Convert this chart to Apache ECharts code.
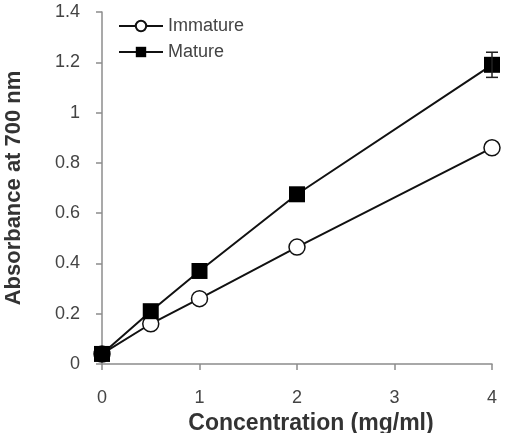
<!DOCTYPE html>
<html>
<head>
<meta charset="utf-8">
<script src="https://cdn.jsdelivr.net/npm/echarts@6/dist/echarts.min.js"></script>
<style>
html, body { margin: 0; padding: 0; background: #fff; }
#main { width: 506px; height: 433px; }
</style>
</head>
<body>
<div id="main"></div>
<script>
var conc = [0, 0.5, 1, 2, 4];
var immature = [0.04, 0.16, 0.26, 0.465, 0.86];
var mature = [0.04, 0.21, 0.37, 0.675, 1.19];
var matureErr = [0, 0, 0, 0, 0.05];

function pairs(xs, ys) {
    return xs.map(function (x, i) { return [x, ys[i]]; });
}
var errData = conc.map(function (x, i) {
    return [x, mature[i] - matureErr[i], mature[i] + matureErr[i]];
}).filter(function (d, i) { return matureErr[i] > 0; });

var chart = echarts.init(document.getElementById('main'));
var option = {
    animation: false,
    grid: { left: 102, right: 14, top: 12, bottom: 69, containLabel: false, outerBoundsMode: 'none' },
    legend: {
        left: 118,
        top: 17,
        padding: 0,
        orient: 'vertical',
        itemGap: 8,
        itemWidth: 44,
        itemHeight: 13,
        textStyle: { fontFamily: 'Arial, Liberation Sans', fontSize: 18, color: '#444' },
        data: ['Immature', 'Mature']
    },
    xAxis: {
        type: 'value',
        min: 0, max: 4, interval: 1,
        name: 'Concentration (mg/ml)',
        nameLocation: 'middle',
        nameGap: 31,
        nameTextStyle: {
            fontFamily: 'Arial, Liberation Sans', fontSize: 23, fontWeight: 'bold', color: '#333',
            padding: [0, 0, 0, 28]
        },
        axisLine: { lineStyle: { color: '#8c8c8c', width: 1.5 } },
        axisTick: { show: true, length: 6, lineStyle: { color: '#8c8c8c', width: 1.5 } },
        axisLabel: { margin: 25, fontFamily: 'Arial, Liberation Sans', fontSize: 18, color: '#444' },
        splitLine: { show: false }
    },
    yAxis: {
        type: 'value',
        min: 0, max: 1.4, interval: 0.2,
        name: 'Absorbance at 700 nm',
        nameLocation: 'middle',
        nameGap: 77,
        nameTextStyle: { fontFamily: 'Arial, Liberation Sans', fontSize: 22, fontWeight: 'bold', color: '#333' },
        axisLine: { show: true, lineStyle: { color: '#8c8c8c', width: 1.5 } },
        axisTick: { show: true, length: 6, lineStyle: { color: '#8c8c8c', width: 1.5 } },
        axisLabel: {
            margin: 22, fontFamily: 'Arial, Liberation Sans', fontSize: 18, color: '#444',
            formatter: function (v) { return +v.toFixed(1) + ''; }
        },
        splitLine: { show: false }
    },
    series: [
        {
            name: 'Immature',
            type: 'line',
            data: pairs(conc, immature),
            symbol: 'circle',
            symbolSize: 16,
            lineStyle: { color: '#111', width: 2 },
            itemStyle: { color: '#fff', borderColor: '#111', borderWidth: 1.5 },
            z: 3
        },
        {
            name: 'Mature',
            type: 'line',
            data: pairs(conc, mature),
            symbol: 'rect',
            symbolSize: 16,
            lineStyle: { color: '#111', width: 2 },
            itemStyle: { color: '#000', borderColor: '#000', borderWidth: 0 },
            z: 4
        },
        {
            name: 'err',
            type: 'custom',
            data: errData,
            z: 5,
            renderItem: function (params, api) {
                var lo = api.coord([api.value(0), api.value(1)]);
                var hi = api.coord([api.value(0), api.value(2)]);
                var w = 6;
                var st = { stroke: '#222', lineWidth: 1.5 };
                return {
                    type: 'group',
                    children: [
                        { type: 'line', shape: { x1: lo[0], y1: lo[1], x2: hi[0], y2: hi[1] }, style: st },
                        { type: 'line', shape: { x1: lo[0] - w, y1: lo[1], x2: lo[0] + w, y2: lo[1] }, style: st },
                        { type: 'line', shape: { x1: hi[0] - w, y1: hi[1], x2: hi[0] + w, y2: hi[1] }, style: st }
                    ]
                };
            }
        }
    ]
};
chart.setOption(option);
</script>
</body>
</html>
